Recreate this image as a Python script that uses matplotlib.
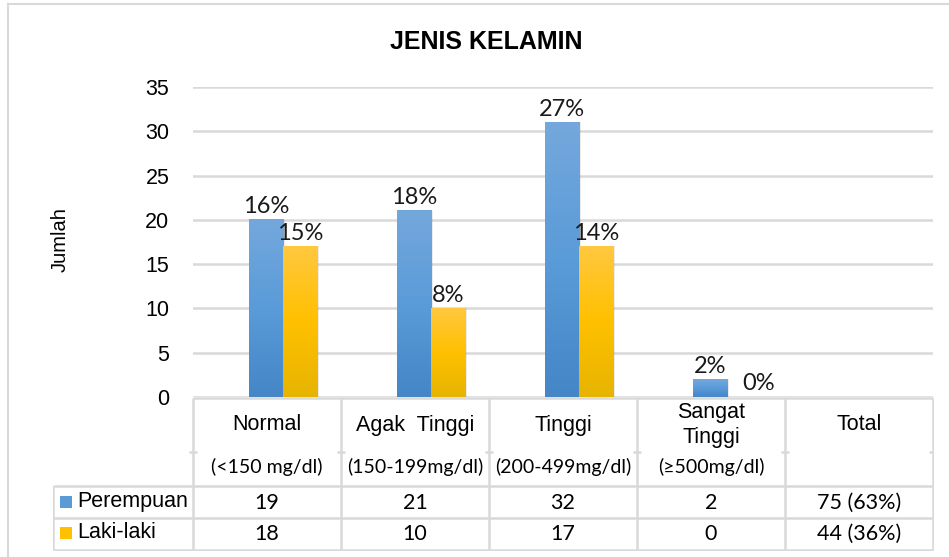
import numpy as np
import matplotlib.pyplot as plt
from matplotlib.colors import LinearSegmentedColormap
from matplotlib.patches import Rectangle

#============================================================
categories = ["Normal", "Agak  Tinggi", "Tinggi", "Sangat\nTinggi", "Total"]
units = ["(<150 mg/dl)", "(150-199mg/dl)", "(200-499mg/dl)", "(\u2265500mg/dl)", ""]
bar_perempuan = [20, 21, 31, 2]      # bar heights as drawn
bar_laki = [17, 10, 17, 0]
pct_perempuan = ["16%", "18%", "27%", "2%"]
pct_laki = ["15%", "8%", "14%", "0%"]
table_perempuan = ["19", "21", "32", "2", "75 (63%)"]
table_laki = ["18", "10", "17", "0", "44 (36%)"]
series = ["Perempuan", "Laki-laki"]
yticks = [0, 5, 10, 15, 20, 25, 30, 35]
#============================================================

W, H = 949, 557
grid_c = "#D9D9D9"
arial = "Liberation Sans"
calibri = "Lato"

fig = plt.figure(figsize=(W / 100, H / 100), dpi=100)

# outer chart frame
frame = fig.add_axes([0, 0, 1, 1])
frame.set_xlim(0, W)
frame.set_ylim(H, 0)
frame.axis("off")
frame.plot([8, 8], [4, H], color=grid_c, lw=1.5)
frame.plot([8, W], [4, 4], color=grid_c, lw=1.5)

# bar axes
ax = fig.add_axes([193 / W, 1 - 397 / H, 740 / W, 310 / H])
off = 0.108
ax.set_xlim(-0.5 - off, 4.5 - off)
ax.set_ylim(0, 35)
for s in ax.spines.values():
    s.set_visible(False)
ax.set_xticks([])
ax.set_yticks(yticks)
ax.tick_params(axis="y", length=0, pad=17)
for t in ax.get_yticklabels():
    t.set_fontfamily(arial)
    t.set_fontsize(15.5)
ax.yaxis.grid(True, color=grid_c, lw=1.8)
ax.set_axisbelow(True)

blue_cm = LinearSegmentedColormap.from_list("b", ["#4486C6", "#5A9BD9", "#74A8DC"])
gold_cm = LinearSegmentedColormap.from_list("g", ["#E6B400", "#FFC000", "#FFC83F"])
grad = np.linspace(0, 1, 256).reshape(-1, 1)

x = np.arange(len(bar_perempuan))
w = 0.23
for vals, pcts, cm, dx in [(bar_perempuan, pct_perempuan, blue_cm, -w / 2),
                           (bar_laki, pct_laki, gold_cm, w / 2)]:
    bars = ax.bar(x + dx, vals, width=w, color="none", zorder=2)
    for b, p in zip(bars, pcts):
        h = b.get_height()
        if h > 0:
            # soft shadow
            ax.add_patch(Rectangle((b.get_x() + 0.012, 0), b.get_width(), h,
                                   color="#000000", alpha=0.08, lw=0, zorder=1.5))
            ax.imshow(grad, extent=[b.get_x(), b.get_x() + b.get_width(), 0, h],
                      cmap=cm, aspect="auto", origin="lower", zorder=2)
        cx = b.get_x() + b.get_width() / 2 + (0.1 if h == 0 else 0)
        ax.annotate(p, (cx, h), xytext=(0, 2), textcoords="offset points",
                    ha="center", va="bottom", fontsize=17, family=calibri,
                    color="#1A1A1A")
ax.set_xlim(-0.5 - off, 4.5 - off)
ax.set_ylim(0, 35)

fig.text(486 / W, 1 - 42 / H, "JENIS KELAMIN", ha="center", va="center",
         fontsize=18, fontweight="bold", family=arial)
fig.text(60 / W, 1 - 240 / H, "Jumlah", rotation=90, ha="center", va="center",
         fontsize=14.5, family=arial)

# data table (pixel layout inside its own axes)
tab = fig.add_axes([53 / W, 1 - 551 / H, 881 / W, 154 / H])
tab.set_xlim(0, 881)
tab.set_ylim(154, 0)
tab.axis("off")
left_w, col_w = 140, 148
edges = [left_w + col_w * i for i in range(len(categories) + 1)]
r_top, r_split, r1, r2, r3 = 1, 55, 89, 121, 153
lk = dict(color=grid_c, lw=1.8, solid_capstyle="butt")
tab.plot([edges[0], edges[-1]], [r_top, r_top], **lk)
for yy in (r1, r2, r3):
    tab.plot([0, edges[-1]], [yy, yy], **lk)
tab.plot([0, 0], [r1, r3], **lk)
for e in edges:
    tab.plot([e, e], [r_top, r3], **lk)
    tab.plot([e - 4, e + 4], [r_split, r_split], **lk)

for i, (c, u) in enumerate(zip(categories, units)):
    cx = (edges[i] + edges[i + 1]) / 2
    tab.text(cx, 28, c, ha="center", va="center", fontsize=15.5, family=arial,
             linespacing=1.2)
    tab.text(cx, 70, u, ha="center", va="center", fontsize=14, family=calibri)
    tab.text(cx, 106, table_perempuan[i], ha="center", va="center",
             fontsize=15.5, family=calibri)
    tab.text(cx, 137, table_laki[i], ha="center", va="center",
             fontsize=15.5, family=calibri)

for yy, name, col in [(105, series[0], "#5B9BD5"), (136, series[1], "#FFC000")]:
    tab.add_patch(Rectangle((7, yy - 6), 12, 12, color=col, lw=0))
    tab.text(24, yy - 1, name, ha="left", va="center", fontsize=15.5, family=arial)

fig.savefig("out.png", dpi=100)
